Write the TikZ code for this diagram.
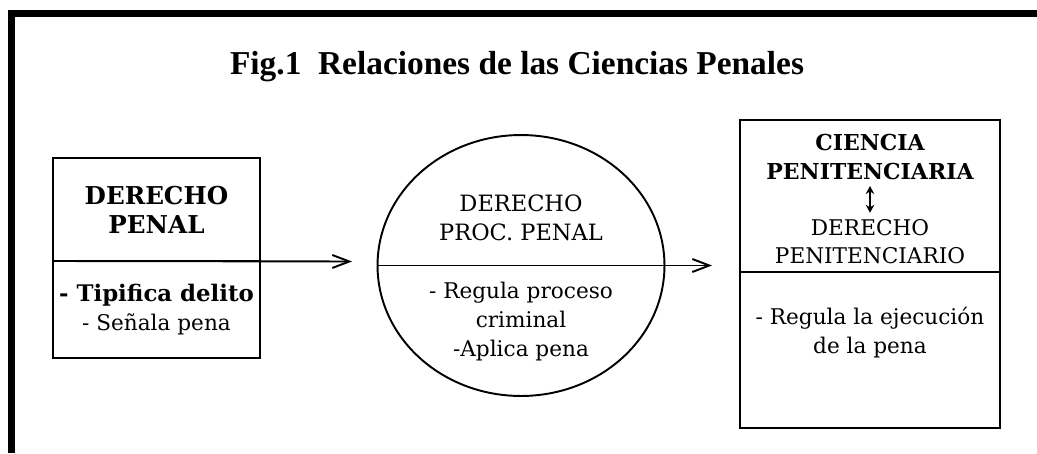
\documentclass[tikz,border=0pt]{standalone}
\usepackage{fontspec}
\setmainfont{DejaVu Serif}
\newfontfamily\titlefont{Liberation Serif}
\usetikzlibrary{positioning, arrows.meta, shapes.geometric}

\tikzset{
  box/.style={draw, line width=1.1pt, rectangle, inner sep=0pt, outer sep=0pt, align=center,
    font=\fontsize{12.3}{16.3}\selectfont},
  txt/.style={align=center, font=\fontsize{12.3}{16.3}\selectfont},
  btxt/.style={align=center, font=\fontsize{12.5}{16.5}\selectfont\bfseries},
  flow/.style={line width=1.1pt, -{Straight Barb[length=3.4mm, width=2.6mm]}}
}

\begin{document}
\begin{tikzpicture}[x=0.02cm, y=-0.02cm]
\useasboundingbox (0,0) rectangle (1037,453);

% frame
\draw[line width=3.7pt] (11.5,453) -- (11.5,13.5) -- (1037,13.5);

\node[anchor=base, font=\titlefont\fontsize{19}{22}\selectfont\bfseries] (title) at (517,74)
  {Fig.1\ \ Relaciones de las Ciencias Penales};

% derecho penal
\node[box, btxt, font=\fontsize{14}{16.5}\selectfont\bfseries, minimum width=4.14cm, minimum height=2.06cm]
  (penal) at (156.5,209.5) {DERECHO\\PENAL};
\node[box, minimum width=4.14cm, minimum height=1.94cm, below=0pt of penal] (penalB)
  {\textbf{\fontsize{13}{16.3}\selectfont - Tipifica delito}\\- Señala pena};

% derecho procesal penal
\node[draw, line width=1.1pt, ellipse, minimum width=5.74cm, minimum height=5.22cm] (proc) at (521,265.5) {};
\node[txt, font=\fontsize{12.8}{16.8}\selectfont] (procA) at (521,218) {DERECHO\\PROC. PENAL};
\node[txt] (procB) at (521,321.5) {- Regula proceso\\criminal\\-Aplica pena};

% ciencia penitenciaria
\node[box, minimum width=5.2cm, minimum height=3.04cm] (penit) at (870,196) {};
\node[box, minimum width=5.2cm, minimum height=3.12cm, below=0pt of penit] (penitB) {};
\node[btxt] (cienc) at (870,157) {CIENCIA\\PENITENCIARIA};
\node[txt] (derpen) at (870,241.5) {DERECHO\\PENITENCIARIO};
\node[txt] (ejec) at (870,332.5) {- Regula la ejecución\\de la pena};
\draw[line width=0.9pt, {Stealth[length=1.6mm, width=1.7mm]}-{Stealth[length=1.6mm, width=1.7mm]}]
  (cienc) -- (derpen);

% flechas
\coordinate (a1end) at (352,261.5);
\coordinate (a2end) at (712,265.5);
\draw[flow] (penal.south west) -- (a1end);
\draw[flow] (proc.west) -- (a2end);

\end{tikzpicture}
\end{document}
